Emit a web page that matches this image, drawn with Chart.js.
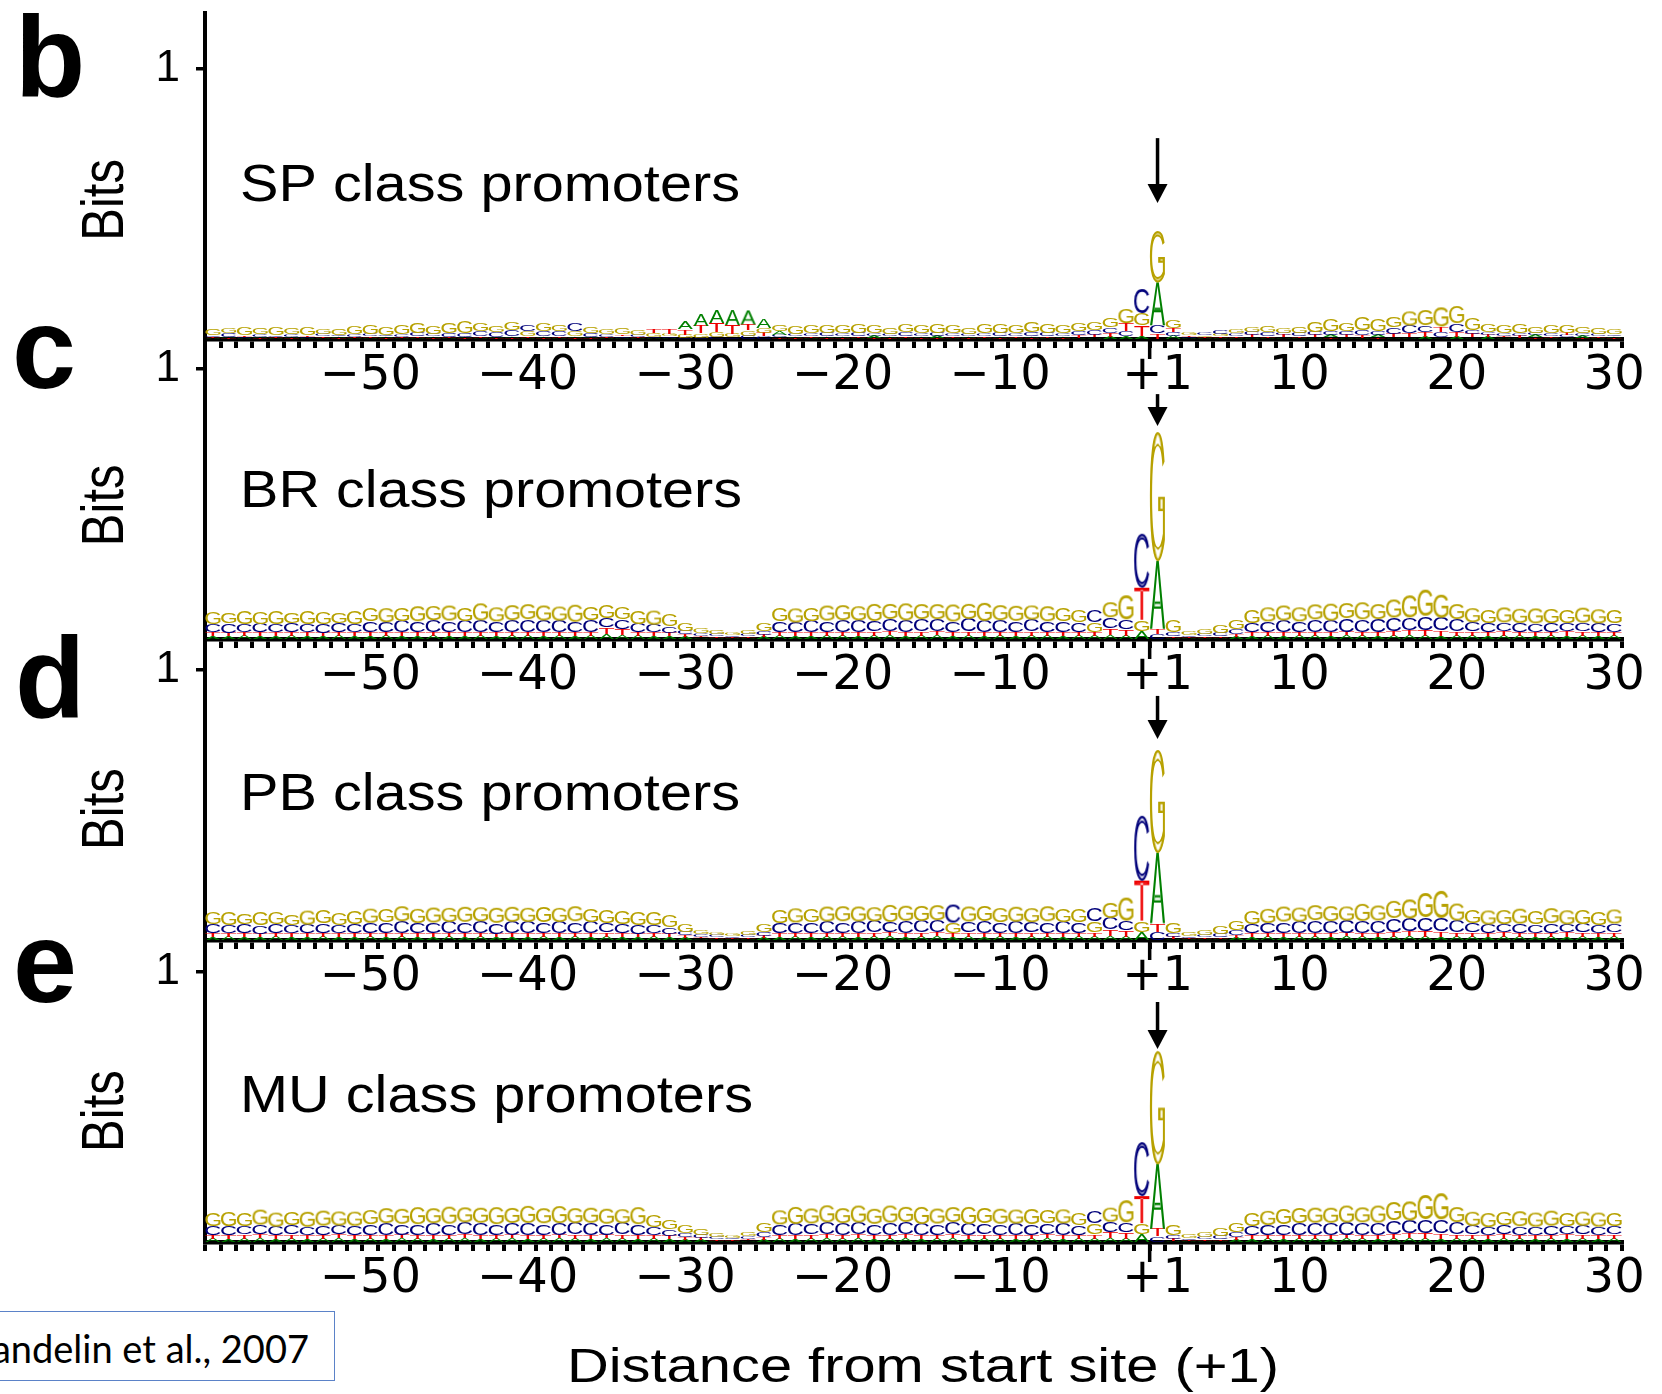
<!DOCTYPE html>
<html>
<head>
<meta charset="utf-8">
<script src="https://cdn.jsdelivr.net/npm/chart.js@4.4.1/dist/chart.umd.min.js"></script>
<style>
  html, body { margin: 0; padding: 0; background: #fff; }
  body { width: 1662px; height: 1394px; position: relative; overflow: hidden; }
  canvas { position: absolute; left: 0; }
  #cite {
    position: absolute; left: -120px; top: 1311px; width: 455px; height: 70px;
    box-sizing: border-box; border: 1.5px solid #5b82c8; background: #fff;
    font: 38px Lato, "Open Sans", sans-serif; color: #000;
    text-align: right; padding-right: 25px; line-height: 72px; white-space: nowrap;
  }
</style>
</head>
<body>
<div id="cite">Sandelin et al., 2007</div>
<script>
// Sequence logos around the transcription start site (+1), one per promoter class.
// Positions have no 0: ... -2, -1, +1, +2 ...
const positions = [
  -60,-59,-58,-57,-56,-55,-54,-53,-52,-51,-50,-49,-48,-47,-46,-45,-44,-43,-42,-41,
  -40,-39,-38,-37,-36,-35,-34,-33,-32,-31,-30,-29,-28,-27,-26,-25,-24,-23,-22,-21,
  -20,-19,-18,-17,-16,-15,-14,-13,-12,-11,-10,-9,-8,-7,-6,-5,-4,-3,-2,-1,
  1,2,3,4,5,6,7,8,9,10,11,12,13,14,15,16,17,18,19,20,21,22,23,24,25,26,27,28,29,30
];
const tickPositions = [-50, -40, -30, -20, -10, 1, 10, 20, 30];
const tickTexts = ['\u221250', '\u221240', '\u221230', '\u221220', '\u221210', '+1', '10', '20', '30'];

// Letter heights in bits, one row = 10 positions (-60..-51, -50..-41, ... +21..+30)
// SP class (panel b)
const SP_A = [
  .004,.005,.004,.006,.004,.005,.004,.005,.006,.004,
  .005,.006,.004,.005,.006,.004,.005,.004,.005,.006,
  .004,.005,.004,.006,.005,.004,.005,.004,.004,.005,
  .03,.042,.045,.058,.052,.035,.015,.006,.005,.006,
  .006,.005,.007,.006,.005,.006,.007,.005,.006,.005,
  .006,.005,.006,.005,.006,.005,.006,.008,.01,.01,
  .16,.012,.004,.004,.005,.005,.006,.005,.006,.005,
  .006,.008,.006,.005,.008,.006,.006,.008,.006,.007,
  .006,.007,.006,.005,.007,.005,.006,.007,.005,.006
];
const SP_C = [
  .006,.012,.005,.008,.006,.01,.005,.007,.006,.008,
  .008,.006,.01,.012,.009,.014,.012,.02,.018,.022,
  .025,.02,.018,.028,.012,.008,.006,.007,.005,.005,
  .004,.005,.008,.006,.012,.01,.01,.008,.01,.012,
  .01,.012,.01,.008,.015,.01,.012,.01,.008,.01,
  .012,.01,.014,.012,.01,.015,.018,.02,.02,.09,
  .03,.012,.004,.01,.015,.01,.012,.015,.01,.012,
  .012,.015,.012,.02,.015,.025,.03,.025,.02,.03,
  .015,.01,.008,.01,.008,.009,.008,.01,.007,.006
];
const SP_G = [
  .025,.02,.028,.022,.03,.024,.027,.02,.026,.03,
  .032,.028,.035,.04,.03,.038,.042,.03,.025,.03,
  .02,.028,.022,.018,.025,.02,.022,.018,.012,.01,
  .012,.015,.018,.012,.02,.018,.025,.03,.028,.03,
  .028,.032,.03,.025,.03,.028,.033,.03,.026,.032,
  .035,.03,.038,.032,.03,.028,.03,.035,.055,.045,
  .19,.03,.008,.005,.01,.015,.02,.022,.018,.025,
  .04,.045,.03,.05,.045,.04,.055,.06,.075,.065,
  .045,.03,.028,.032,.025,.03,.028,.025,.022,.02
];
const SP_T = [
  .005,.004,.006,.003,.005,.004,.006,.005,.004,.005,
  .005,.004,.005,.006,.004,.005,.004,.005,.004,.004,
  .005,.004,.006,.005,.004,.005,.006,.004,.012,.018,
  .02,.03,.035,.035,.022,.012,.006,.005,.006,.005,
  .005,.006,.005,.005,.006,.005,.004,.006,.005,.005,
  .005,.006,.005,.006,.005,.008,.01,.015,.03,.04,
  .02,.015,.005,.004,.005,.006,.008,.006,.007,.006,
  .008,.006,.01,.008,.006,.012,.015,.018,.02,.02,
  .012,.008,.006,.007,.006,.006,.008,.005,.006,.005
];

// BR class (panel c)
const BR_A = [
  .011,.01,.012,.011,.01,.012,.011,.01,.012,.011,
  .011,.012,.01,.011,.012,.011,.01,.012,.011,.012,
  .012,.011,.012,.011,.012,.018,.015,.012,.011,.01,
  .008,.006,.005,.004,.004,.007,.012,.011,.01,.012,
  .012,.011,.012,.013,.011,.012,.013,.011,.012,.011,
  .012,.011,.012,.012,.011,.012,.012,.015,.012,.03,
  .25,.005,.004,.005,.005,.008,.011,.012,.011,.012,
  .012,.011,.013,.012,.011,.012,.013,.012,.011,.012,
  .012,.011,.012,.012,.011,.012,.011,.012,.011,.012
];
const BR_C = [
  .03,.035,.028,.032,.03,.036,.028,.033,.035,.03,
  .04,.038,.042,.04,.045,.04,.042,.045,.04,.043,
  .045,.042,.044,.04,.042,.035,.035,.032,.03,.025,
  .012,.01,.008,.006,.008,.015,.04,.038,.042,.04,
  .042,.045,.04,.044,.042,.045,.043,.04,.046,.042,
  .042,.04,.045,.038,.04,.035,.045,.04,.035,.2,
  .02,.015,.006,.008,.012,.02,.035,.04,.042,.04,
  .045,.042,.048,.044,.046,.05,.045,.05,.048,.045,
  .035,.032,.03,.034,.03,.033,.031,.03,.032,.03
];
const BR_G = [
  .045,.04,.05,.042,.048,.038,.05,.045,.04,.048,
  .05,.055,.048,.06,.052,.058,.05,.062,.055,.06,
  .058,.06,.055,.062,.05,.048,.045,.05,.055,.045,
  .03,.018,.012,.01,.012,.03,.05,.055,.05,.058,
  .06,.055,.062,.058,.065,.06,.058,.063,.06,.066,
  .06,.058,.055,.06,.05,.045,.035,.06,.09,.04,
  .48,.045,.015,.02,.03,.035,.05,.055,.06,.055,
  .06,.062,.058,.065,.06,.07,.08,.095,.085,.06,
  .055,.05,.058,.052,.06,.055,.05,.058,.053,.05
];
const BR_T = [
  .014,.012,.015,.013,.014,.012,.015,.013,.012,.014,
  .014,.013,.015,.014,.013,.015,.014,.013,.015,.014,
  .014,.015,.013,.014,.015,.025,.022,.012,.013,.012,
  .01,.006,.005,.005,.006,.008,.014,.013,.015,.014,
  .015,.014,.016,.015,.014,.016,.015,.014,.016,.015,
  .015,.014,.016,.015,.014,.015,.015,.025,.025,.12,
  .02,.006,.004,.005,.006,.01,.013,.014,.015,.014,
  .015,.016,.014,.015,.016,.018,.02,.022,.02,.016,
  .016,.015,.017,.014,.016,.015,.017,.016,.014,.015
];

// PB class (panel d)
const PB_A = [
  .011,.012,.01,.011,.012,.011,.01,.012,.011,.01,
  .012,.011,.012,.01,.011,.012,.011,.012,.01,.011,
  .011,.012,.011,.012,.011,.012,.011,.01,.012,.011,
  .008,.006,.005,.004,.004,.007,.011,.012,.011,.012,
  .012,.011,.012,.013,.011,.012,.013,.011,.012,.011,
  .012,.011,.012,.012,.011,.012,.012,.014,.012,.03,
  .26,.005,.004,.005,.005,.008,.011,.012,.011,.012,
  .012,.011,.013,.012,.011,.012,.013,.012,.011,.012,
  .012,.011,.012,.012,.011,.012,.011,.012,.011,.012
];
const PB_C = [
  .032,.03,.035,.03,.034,.03,.032,.035,.03,.033,
  .038,.04,.042,.04,.038,.042,.04,.043,.04,.042,
  .042,.04,.043,.04,.042,.036,.034,.033,.03,.026,
  .012,.009,.007,.006,.008,.014,.038,.04,.04,.042,
  .04,.043,.042,.04,.044,.042,.045,.07,.04,.042,
  .04,.042,.038,.04,.042,.038,.046,.042,.035,.24,
  .03,.015,.006,.008,.012,.02,.034,.038,.04,.042,
  .044,.042,.046,.045,.043,.05,.046,.05,.05,.045,
  .034,.032,.03,.033,.031,.034,.03,.032,.03,.031
];
const PB_G = [
  .042,.048,.04,.05,.045,.04,.052,.046,.042,.05,
  .052,.05,.058,.055,.06,.052,.058,.055,.06,.056,
  .055,.06,.052,.058,.05,.048,.05,.046,.05,.042,
  .028,.015,.01,.008,.012,.028,.048,.055,.05,.056,
  .058,.06,.055,.062,.058,.06,.056,.04,.06,.058,
  .055,.06,.052,.058,.05,.048,.04,.06,.085,.04,
  .38,.04,.012,.018,.028,.035,.048,.055,.058,.052,
  .058,.06,.055,.062,.058,.065,.075,.09,.1,.062,
  .05,.055,.052,.056,.05,.058,.052,.055,.05,.054
];
const PB_T = [
  .014,.013,.015,.012,.014,.013,.015,.014,.013,.014,
  .014,.015,.013,.014,.015,.013,.014,.015,.013,.014,
  .015,.014,.013,.015,.014,.016,.014,.013,.014,.012,
  .01,.006,.005,.005,.006,.008,.013,.014,.015,.014,
  .015,.014,.016,.015,.014,.016,.015,.014,.016,.015,
  .015,.014,.016,.015,.014,.015,.016,.025,.025,.15,
  .03,.007,.004,.005,.006,.01,.013,.014,.015,.014,
  .015,.016,.014,.015,.016,.018,.02,.022,.021,.016,
  .016,.015,.017,.015,.016,.014,.017,.016,.015,.016
];

// MU class (panel e)
const MU_A = [
  .012,.011,.012,.013,.011,.012,.011,.012,.013,.011,
  .012,.011,.013,.012,.011,.012,.013,.011,.012,.013,
  .011,.012,.013,.012,.011,.013,.012,.011,.012,.01,
  .009,.007,.005,.005,.006,.008,.012,.011,.012,.013,
  .012,.013,.011,.012,.013,.011,.012,.013,.011,.012,
  .012,.011,.012,.013,.011,.012,.012,.014,.012,.03,
  .24,.005,.004,.005,.005,.008,.011,.012,.011,.012,
  .012,.011,.013,.012,.011,.012,.013,.012,.011,.012,
  .012,.011,.012,.012,.011,.012,.011,.012,.011,.012
];
const MU_C = [
  .032,.035,.03,.034,.032,.036,.03,.034,.032,.035,
  .04,.042,.038,.04,.042,.04,.044,.042,.04,.043,
  .042,.04,.044,.041,.043,.04,.042,.038,.03,.025,
  .015,.012,.008,.006,.01,.02,.04,.042,.04,.043,
  .042,.044,.04,.043,.045,.042,.04,.044,.042,.04,
  .04,.042,.038,.04,.042,.035,.045,.04,.035,.2,
  .02,.015,.006,.008,.012,.02,.034,.038,.04,.042,
  .044,.042,.046,.045,.043,.05,.046,.05,.05,.045,
  .032,.03,.033,.031,.03,.032,.03,.033,.031,.03
];
const MU_G = [
  .05,.055,.048,.058,.052,.05,.056,.06,.052,.055,
  .055,.06,.058,.062,.056,.065,.06,.058,.062,.06,
  .065,.058,.062,.06,.058,.06,.055,.065,.045,.035,
  .028,.022,.012,.01,.014,.035,.055,.062,.06,.065,
  .06,.062,.058,.065,.06,.062,.058,.06,.062,.058,
  .06,.055,.058,.05,.052,.045,.04,.055,.08,.04,
  .42,.04,.012,.018,.028,.035,.05,.055,.06,.058,
  .06,.058,.062,.06,.065,.068,.075,.09,.095,.06,
  .052,.055,.05,.056,.052,.058,.05,.055,.052,.05
];
const MU_T = [
  .015,.014,.016,.015,.014,.016,.015,.014,.016,.015,
  .015,.016,.014,.015,.016,.014,.015,.016,.015,.014,
  .016,.015,.014,.016,.015,.014,.016,.015,.013,.012,
  .01,.008,.006,.005,.006,.01,.014,.015,.016,.015,
  .015,.016,.014,.015,.016,.015,.014,.016,.015,.016,
  .015,.016,.014,.015,.016,.015,.016,.022,.024,.1,
  .03,.007,.004,.005,.006,.01,.013,.014,.015,.014,
  .015,.016,.014,.015,.016,.018,.02,.022,.021,.016,
  .016,.015,.017,.015,.016,.014,.017,.016,.015,.016
];

const LETTERS = ['A', 'C', 'G', 'T'];
const LETTER_COLORS = { A: '#008000', C: '#00007a', G: '#b7a100', T: '#ee0000' };
const SANS = '"Liberation Sans", Arial, sans-serif';

// Page geometry (pixels)
const PLOT_LEFT = 205;
const PLOT_RIGHT = 1622;
const BIT_PX = 270;
const PAD_TOP = 60;

const panels = [
  { letter: 'b', title: 'SP class promoters', A: SP_A, C: SP_C, G: SP_G, T: SP_T,
    top: 13, bottom: 339, axisH: 72, letterX: 15, letterAt: 0.896, textAt: 0.51, titleW: 500,
    arrow: [0.744, 0.504] },
  { letter: 'c', title: 'BR class promoters', A: BR_A, C: BR_C, G: BR_G, T: BR_T,
    top: 339, bottom: 639, axisH: 72, letterX: 12, letterAt: 0.93, textAt: 0.49, titleW: 502,
    arrow: [0.907, 0.789] },
  { letter: 'd', title: 'PB class promoters', A: PB_A, C: PB_C, G: PB_G, T: PB_T,
    top: 639, bottom: 940, axisH: 72, letterX: 15, letterAt: 0.822, textAt: 0.48, titleW: 500,
    arrow: [0.904, 0.744] },
  { letter: 'e', title: 'MU class promoters', A: MU_A, C: MU_C, G: MU_G, T: MU_T,
    top: 940, bottom: 1242, axisH: 152, letterX: 13, letterAt: 0.889, textAt: 0.48, titleW: 513,
    arrow: [0.889, 0.715], xTitle: 'Distance from start site (+1)' }
];

panels.forEach(p => LETTERS.forEach(L => {
  if (p[L].length !== positions.length) throw new Error(p.title + ' ' + L + ' has ' + p[L].length);
}));

Chart.defaults.font.family = '"DejaVu Sans", sans-serif';
Chart.defaults.color = '#000';

// glyph metrics cache for the logo letters
const glyphCache = {};
function glyphMetrics(ctx, ch) {
  if (!glyphCache[ch]) {
    ctx.save();
    ctx.font = '100px ' + SANS;
    const m = ctx.measureText(ch);
    glyphCache[ch] = {
      left: m.actualBoundingBoxLeft, w: m.actualBoundingBoxLeft + m.actualBoundingBoxRight,
      desc: m.actualBoundingBoxDescent, h: m.actualBoundingBoxAscent + m.actualBoundingBoxDescent
    };
    ctx.restore();
  }
  return glyphCache[ch];
}

function fillGlyph(c, ch, x0, y0, w, h) {
  const g = glyphMetrics(c, ch);
  c.save();
  c.font = '100px ' + SANS;
  c.fillStyle = LETTER_COLORS[ch];
  c.translate(x0, y0 + h);
  c.scale(w / g.w, h / g.h);
  c.textBaseline = 'alphabetic';
  c.textAlign = 'left';
  c.fillText(ch, g.left, -g.desc);
  c.restore();
}

// draw one letter stretched into a box; big letters are drawn hollow like the original
function drawGlyph(ctx, ch, x0, x1, yTop, yBot) {
  const w = x1 - x0, h = yBot - yTop;
  if (h < 0.3) return;
  if (h < 14) { fillGlyph(ctx, ch, x0, yTop, w, h); return; }
  const pad = 4, t = 2.4;
  const cw = Math.ceil(w) + 2 * pad, chh = Math.ceil(h) + 2 * pad;
  const a = document.createElement('canvas');
  a.width = cw; a.height = chh;
  const ac = a.getContext('2d');
  fillGlyph(ac, ch, pad, pad, w, h);
  const e = document.createElement('canvas');
  e.width = cw; e.height = chh;
  const ec = e.getContext('2d');
  ec.drawImage(a, 0, 0);
  ec.globalCompositeOperation = 'destination-in';
  [[-t, 0], [t, 0], [0, -t], [0, t]].forEach(([dx, dy]) => ec.drawImage(a, dx, dy));
  ac.globalCompositeOperation = 'destination-out';
  ac.drawImage(e, 0, 0);
  ctx.drawImage(a, x0 - pad, yTop - pad);
}

// text squeezed/stretched to a given width (the figure is wider than its fonts)
function fillWide(ctx, text, x, y, width, font) {
  ctx.save();
  ctx.font = font;
  const tw = ctx.measureText(text).width;
  ctx.translate(x, y);
  ctx.scale(width / tw, 1);
  ctx.fillText(text, 0, 0);
  ctx.restore();
}

// letters stacked per position, largest on top
const logoPlugin = {
  id: 'logo',
  afterDatasetsDraw(chart, args, opts) {
    const p = opts.panel;
    const { ctx, scales: { x, y } } = chart;
    const bars = chart.getDatasetMeta(0).data;
    positions.forEach((pos, k) => {
      const half = bars[k].width * 0.48;
      const cx = x.getPixelForValue(k);
      const col = LETTERS.map(L => ({ L, v: p[L][k] })).sort((a, b) => a.v - b.v);
      let sum = 0;
      col.forEach(({ L, v }) => {
        const yb = y.getPixelForValue(sum);
        sum += v;
        drawGlyph(ctx, L, cx - half, cx + half, y.getPixelForValue(sum), yb);
      });
    });
  }
};

// panel letter, class name, "Bits", start-site arrow and tick, x title
const decorPlugin = {
  id: 'decor',
  afterDraw(chart, args, opts) {
    const p = opts.panel;
    const { ctx, chartArea: a, scales: { x, y } } = chart;
    ctx.save();
    ctx.fillStyle = '#000';
    ctx.strokeStyle = '#000';
    ctx.textAlign = 'left';
    ctx.textBaseline = 'alphabetic';

    ctx.font = 'bold 115px ' + SANS;
    ctx.fillText(p.letter, p.letterX, y.getPixelForValue(p.letterAt));

    fillWide(ctx, p.title, a.left + 35, y.getPixelForValue(p.textAt), p.titleW, '52px ' + SANS);

    ctx.save();
    ctx.translate(107, y.getPixelForValue(p.textAt + 0.005));
    ctx.rotate(-Math.PI / 2);
    ctx.scale(1, 1.2);
    ctx.textAlign = 'center';
    ctx.textBaseline = 'middle';
    ctx.font = '49px ' + SANS;
    ctx.fillText('Bits', 0, 0);
    ctx.restore();

    if (p.xTitle) {
      fillWide(ctx, p.xTitle, a.left + 718 - 356, a.bottom + 140, 712, '49px ' + SANS);
    }

    const k1 = positions.indexOf(1);
    const ax = x.getPixelForValue(k1);
    const yTail = y.getPixelForValue(p.arrow[0]);
    const yTip = y.getPixelForValue(p.arrow[1]);
    ctx.lineWidth = 3.5;
    ctx.beginPath();
    ctx.moveTo(ax, yTail);
    ctx.lineTo(ax, yTip - 14);
    ctx.stroke();
    ctx.beginPath();
    ctx.moveTo(ax - 10, yTip - 19);
    ctx.lineTo(ax + 10, yTip - 19);
    ctx.lineTo(ax, yTip);
    ctx.closePath();
    ctx.fill();

    const tx = (x.getPixelForValue(k1 - 1) + ax) / 2;
    ctx.lineWidth = 3.5;
    ctx.beginPath();
    ctx.moveTo(tx, a.bottom);
    ctx.lineTo(tx, a.bottom + 20);
    ctx.stroke();
    ctx.restore();
  }
};

panels.forEach(p => {
  const cv = document.createElement('canvas');
  const h = PAD_TOP + (p.bottom - p.top) + p.axisH;
  cv.width = 1662;
  cv.height = h;
  cv.style.top = (p.top - PAD_TOP) + 'px';
  document.body.appendChild(cv);

  new Chart(cv, {
    type: 'bar',
    data: {
      labels: positions,
      datasets: LETTERS.map(L => ({
        label: L,
        data: p[L],
        backgroundColor: 'rgba(0,0,0,0)',
        borderWidth: 0,
        barPercentage: 1,
        categoryPercentage: 1
      }))
    },
    options: {
      responsive: false,
      animation: false,
      devicePixelRatio: 1,
      events: [],
      layout: { padding: { top: PAD_TOP, left: 0, right: 1662 - PLOT_RIGHT, bottom: 0 } },
      plugins: {
        legend: { display: false },
        tooltip: { enabled: false },
        logo: { panel: p },
        decor: { panel: p }
      },
      scales: {
        x: {
          stacked: true,
          offset: true,
          grid: { offset: true, drawOnChartArea: false, drawTicks: true, tickLength: 9, color: '#000', lineWidth: 4 },
          border: { display: true, color: '#000', width: 4.5 },
          ticks: {
            autoSkip: false, maxRotation: 0, minRotation: 0, padding: 0,
            font: { size: 48 },
            callback: (v, i) => {
              const t = tickPositions.indexOf(positions[i]);
              return t >= 0 ? tickTexts[t] : '';
            }
          },
          afterFit: s => { s.height = p.axisH; }
        },
        y: {
          stacked: true,
          min: 0,
          max: (p.bottom - p.top) / BIT_PX,
          grid: { drawOnChartArea: false, drawTicks: true, tickLength: 9, color: '#000', lineWidth: 3.5 },
          border: { display: true, color: '#000', width: 4 },
          ticks: { padding: 16, font: { size: 44, family: SANS } },
          afterBuildTicks: s => { s.ticks = [{ value: 1 }]; },
          afterFit: s => { s.width = PLOT_LEFT; }
        }
      }
    },
    plugins: [logoPlugin, decorPlugin]
  });
});
</script>
</body>
</html>
